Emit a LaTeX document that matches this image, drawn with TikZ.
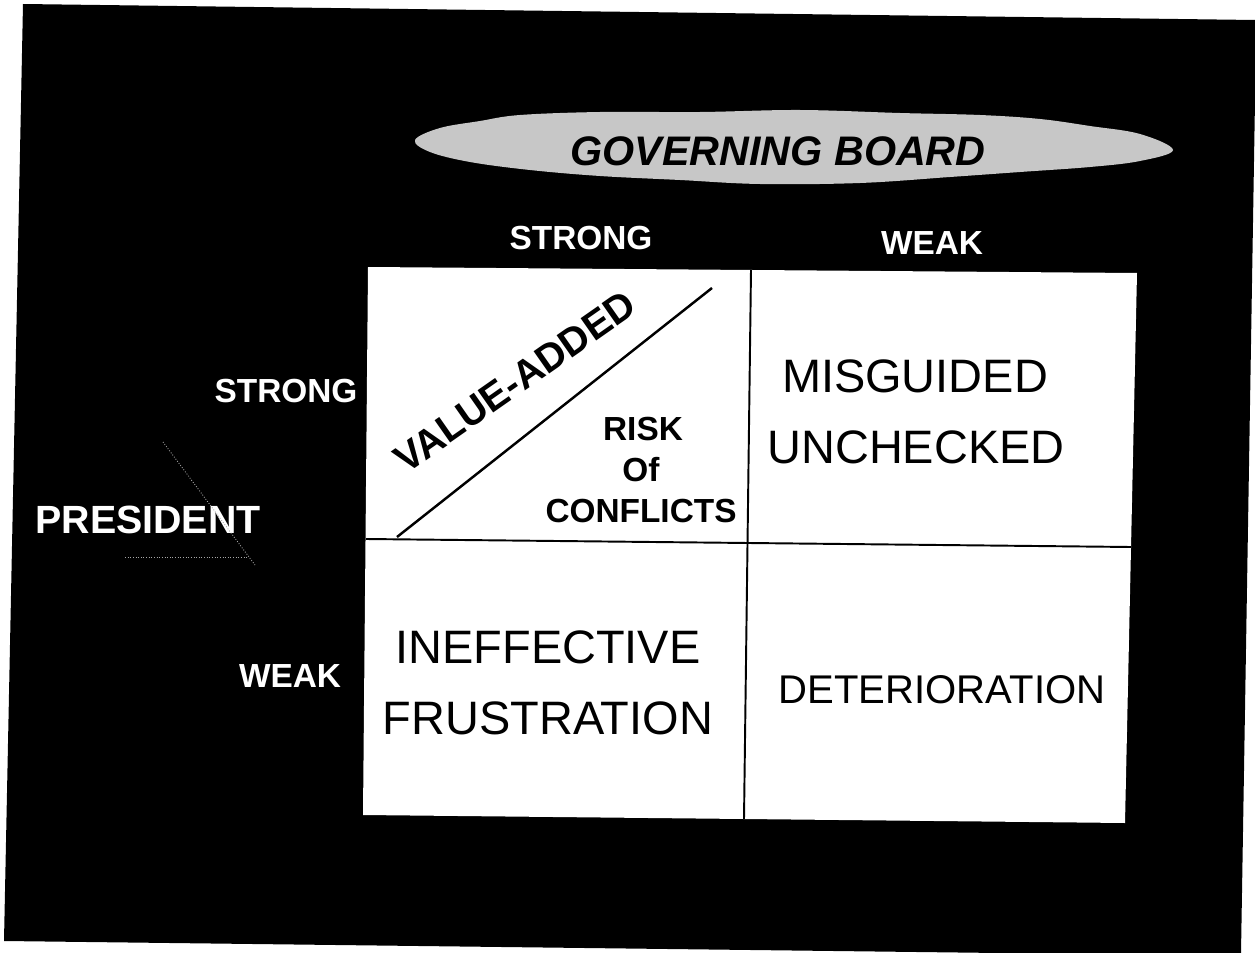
\documentclass[tikz,border=0pt]{standalone}
\usepackage{fontspec}
\setmainfont{Liberation Sans}
\usetikzlibrary{positioning}

\begin{document}
\begin{tikzpicture}[x=0.02cm,y=-0.02cm,
  axislabel/.style={text=white,inner sep=0pt,font=\bfseries\fontsize{19}{23}\selectfont},
  celltext/.style={inner sep=0pt,font=\fontsize{26.7}{32}\selectfont},
  risktext/.style={inner sep=0pt,font=\bfseries\fontsize{19}{23}\selectfont},
  gridline/.style={line width=1.1pt,color=black}]

  \fill [white] (0,0) rectangle (1255,953);
  \useasboundingbox (0,0) rectangle (1255,953);

  % slide background
  \fill [black] (23,4) -- (1255,20) -- (1255,100) -- (1241,953) -- (1000,953) -- (4,941) -- cycle;

  % title cloud
  \fill [black!22] plot [smooth cycle, tension=0.6] coordinates {
    (415,140) (440,128) (480,121) (520,115) (600,112) (700,112) (800,110) (900,113)
    (980,115) (1040,119) (1090,126) (1140,134) (1173,150) (1140,161) (1090,167)
    (1020,172) (950,177) (860,183) (760,184) (680,180) (600,176) (530,170)
    (470,162) (430,152)};
  \node (board) at (778,151) [inner sep=0pt,font=\bfseries\itshape\fontsize{23.5}{28}\selectfont] {GOVERNING BOARD};

  % column and row headings
  \node (colstrong) at (581,238) [axislabel] {STRONG};
  \node (colweak) at (932,243) [axislabel] {WEAK};
  \node (rowstrong) at (286,391) [axislabel] {STRONG};
  \node (rowweak) at (290,676) [axislabel] {WEAK};
  \node (president) at (148,520) [text=white,inner sep=0pt,font=\bfseries\fontsize{22.4}{27}\selectfont] {PRESIDENT};
  \draw [gray!70,densely dotted,line width=0.5pt] (163,442) -- (255,565);
  \draw [gray!70,densely dotted,line width=0.5pt] (125,557) -- (248,557);

  % the four cells
  \coordinate (tl) at (368,267);
  \coordinate (tr) at (1137,273);
  \coordinate (br) at (1125,823);
  \coordinate (bl) at (363,815);
  \coordinate (mt) at (751,270);
  \coordinate (mb) at (744,819);
  \coordinate (ml) at (366,539);
  \coordinate (mr) at (1131,547);
  \fill [white] (tl) -- (tr) -- (br) -- (bl) -- cycle;
  \draw [gridline] (mt) -- (mb);
  \draw [gridline] (ml) -- (mr);

  \coordinate (diagA) at (397,537);
  \coordinate (diagB) at (712,288);
  \draw [line width=1.4pt] (diagA) -- (diagB);
  \node (valueadded) at (515,382) [rotate=35,inner sep=0pt,font=\bfseries\fontsize{22.5}{27}\selectfont] {VALUE-ADDED};
  \node (risk) at (643,429) [risktext] {RISK};
  \node (of) at (641,470) [risktext] {Of};
  \node (conflicts) at (641,511) [risktext] {CONFLICTS};

  \node (misguided) at (915,376) [celltext] {MISGUIDED};
  \node (unchecked) at (916,447) [celltext] {UNCHECKED};
  \node (ineffective) at (548,647) [celltext] {INEFFECTIVE};
  \node (frustration) at (548,718) [celltext] {FRUSTRATION};
  \node (deterioration) at (942,690) [inner sep=0pt,font=\fontsize{22.8}{27}\selectfont] {DETERIORATION};

\end{tikzpicture}
\end{document}
